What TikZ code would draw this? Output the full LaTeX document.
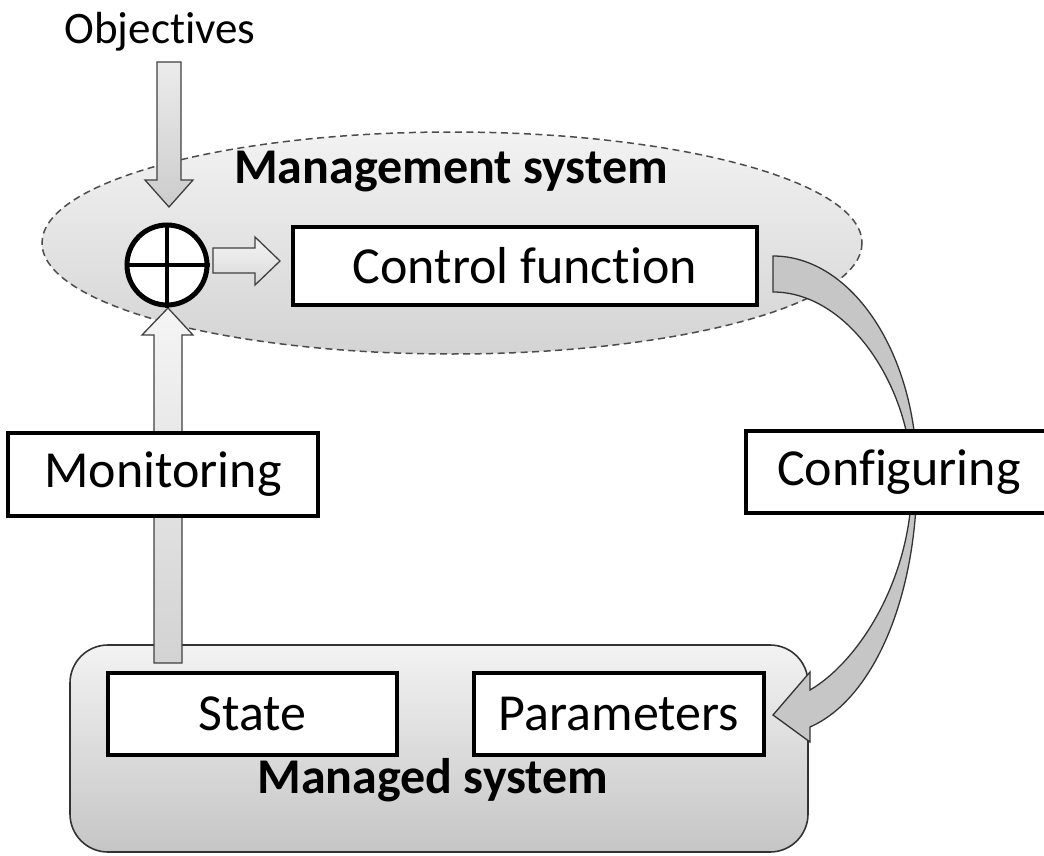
\documentclass[tikz,border=0pt]{standalone}
\usepackage{fontspec}
\setmainfont[RawFeature={-liga;-dlig;-clig}]{Carlito}
\begin{document}
\begin{tikzpicture}[x=1pt,y=-1pt,
  box/.style={draw=black,line width=4.5pt,fill=white,inner sep=0pt,
    font=\fontsize{52}{60}\selectfont},
  blockarrow/.style={draw=black!75,line width=1.3pt,line join=miter},
  lbl/.style={inner sep=0pt,font=\fontsize{50}{60}\selectfont\bfseries}]
\useasboundingbox (0,0) rectangle (1044,856);

% management system region
\path[draw=black!70,line width=1.5pt,dash pattern=on 7pt off 4.5pt,
  top color=gray!10,bottom color=gray!34]
  (452,243) ellipse [x radius=410,y radius=111];
\node[lbl] (mgmt) at (451,172) {Management system};

% managed system region
\path[draw=black!80,line width=1.6pt,rounded corners=38pt,
  top color=gray!10,bottom color=gray!45]
  (70,645) rectangle (808,852);
\node[lbl] (managed) at (433,780) {Managed system};

% objectives input
\node[inner sep=0pt,font=\fontsize{45}{54}\selectfont] (obj) at (160,32) {Objectives};
\path[blockarrow,top color=gray!15,bottom color=gray!40]
  (157,62) -- (181,62) -- (181,180) -- (193,180) -- (169,207)
  -- (145,180) -- (157,180) -- cycle;

% monitoring feedback arrow
\path[blockarrow,top color=gray!8,bottom color=gray!35]
  (154,663) -- (154,335) -- (142,335) -- (168,308) -- (193,335)
  -- (182,335) -- (182,663) -- cycle;

% summing junction to control function
\path[blockarrow,top color=gray!8,bottom color=gray!30]
  (213,248) -- (255,248) -- (255,237) -- (280,261) -- (255,285)
  -- (255,273) -- (213,273) -- cycle;

% configuring curved arrow
\path[draw=black!80,line width=1.3pt,fill=gray!45]
  (773,256) .. controls (852,256) and (917,354) .. (917,475)
  .. controls (917,600) and (872,700) .. (810,727)
  -- (810,742) -- (773,715) -- (810,672) -- (810,690)
  .. controls (858,662) and (912,580) .. (912,480)
  .. controls (912,390) and (850,292) .. (773,292) -- cycle;

% boxes
\node[box,minimum width=464pt,minimum height=78pt] (ctrl) at (525,266) {Control function};
\node[box,minimum width=310pt,minimum height=83pt] (mon) at (163,474.5) {Monitoring};
\node[box,minimum width=306pt,minimum height=82pt,text width=306pt] (cfg) at (899,472)
  {\hspace*{31pt}Configuring};
\node[box,minimum width=289pt,minimum height=82pt] (state) at (252.5,714) {State};
\node[box,minimum width=290pt,minimum height=82pt] (par) at (619,714) {Parameters};

% summing junction
\node[circle,draw=black,line width=5pt,fill=white,minimum size=80pt,inner sep=0pt] (sum) at (167,265) {};
\draw[line width=4.5pt] (sum.north) -- (sum.south) (sum.west) -- (sum.east);
\end{tikzpicture}
\end{document}
